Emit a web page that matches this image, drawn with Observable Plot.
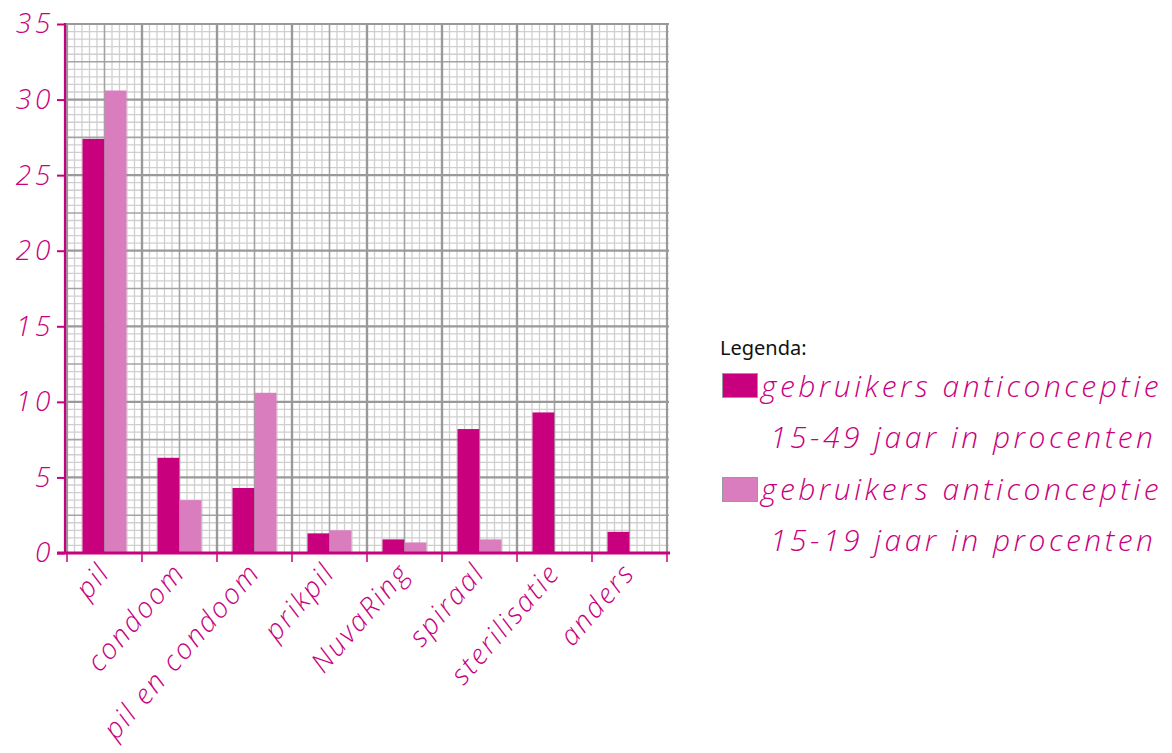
<!DOCTYPE html>
<html>
<head>
<meta charset="utf-8">
<script src="https://cdn.jsdelivr.net/npm/d3@7"></script>
<script src="https://cdn.jsdelivr.net/npm/@observablehq/plot@0.6"></script>
<style>
  html, body { margin: 0; padding: 0; background: #fff; }
  #wrap { position: relative; width: 1172px; height: 753px; }
  #chart { position: absolute; left: 0; top: 0; }
  #legend { position: absolute; left: 0; top: 0; width: 1172px; height: 753px; color: #c8007e; pointer-events: none; }
  #legend .title { position: absolute; left: 720px; top: 334px; font-family: "Noto Sans", sans-serif; font-size: 20px; color: #111; line-height: 28px; }
  #legend .sw { position: absolute; width: 36px; height: 25px; border: 1px solid #999; box-sizing: border-box; }
  #legend .lab { position: absolute; white-space: nowrap; font-family: "Open Sans", sans-serif; font-style: italic; font-weight: 300; font-size: 30px; letter-spacing: 3.5px; line-height: 51px; }
  .script { font-family: "Open Sans", sans-serif; font-style: italic; font-weight: 300; }
</style>
</head>
<body>
<div id="wrap">
  <div id="chart"></div>
  <div id="legend"></div>
</div>
<script>
const categories = ["pil", "condoom", "pil en condoom", "prikpil", "NuvaRing", "spiraal", "sterilisatie", "anders"];
const series = ["gebruikers anticonceptie 15-49 jaar in procenten", "gebruikers anticonceptie 15-19 jaar in procenten"];
const values1549 = [27.4, 6.3, 4.3, 1.3, 0.9, 8.2, 9.3, 1.4];
const values1519 = [30.6, 3.5, 10.6, 1.5, 0.7, 0.9, 0, 0];
const yTicks = [0, 5, 10, 15, 20, 25, 30, 35];
const colors = ["#c8007e", "#da7dbf"];

const dark = colors[0], light = colors[1];
const data1 = categories.map((c, i) => ({cat: c, v: values1549[i]}));
const data2 = categories.map((c, i) => ({cat: c, v: values1519[i]}));

const W = 700, H = 753;
const mL = 65, mR = 31, mT = 24, mB = 200;

function gridMark(index, scales, values, dims) {
  const x = scales.x, y = scales.y;
  const left = dims.marginLeft, right = dims.width - dims.marginRight;
  const top = dims.marginTop, bottom = dims.height - dims.marginBottom;
  const bw = typeof x.bandwidth === "function" ? x.bandwidth() : (right - left) / categories.length;
  const g = d3.create("svg:g");
  const hLines = [];
  for (let v = 0; v <= 35.0001; v += 0.5) hLines.push(Math.round(v * 10) / 10);
  const vLines = [];
  categories.forEach((c) => { for (let k = 0; k <= 10; k++) vLines.push({x: x(c) + k * bw / 10, k}); });
  const styleFor = (kind) => kind === 2 ? {s: "#999", w: 2.2} : kind === 1 ? {s: "#a3a3a3", w: 1.6} : {s: "#cfcfcf", w: 1.3};
  const kindH = (v) => (Math.abs(v % 5) < 1e-6) ? 2 : (Math.abs(v % 2.5) < 1e-6 ? 1 : 0);
  const kindV = (k) => (k === 0 || k === 10) ? 2 : (k === 5 ? 1 : 0);
  for (const pass of [0, 1, 2]) {
    for (const v of hLines) {
      if (kindH(v) !== pass) continue;
      const st = styleFor(pass);
      g.append("line").attr("x1", left).attr("x2", right).attr("y1", y(v)).attr("y2", y(v))
        .attr("stroke", st.s).attr("stroke-width", st.w);
    }
    for (const d of vLines) {
      if (kindV(d.k) !== pass) continue;
      const st = styleFor(pass);
      g.append("line").attr("x1", d.x).attr("x2", d.x).attr("y1", top).attr("y2", bottom)
        .attr("stroke", st.s).attr("stroke-width", st.w);
    }
  }
  return g.node();
}

function axisLines(index, scales, values, dims) {
  const x = scales.x;
  const left = dims.marginLeft, right = dims.width - dims.marginRight;
  const top = dims.marginTop, bottom = dims.height - dims.marginBottom;
  const bw = typeof x.bandwidth === "function" ? x.bandwidth() : (right - left) / categories.length;
  const g = d3.create("svg:g");
  g.append("line").attr("x1", left).attr("x2", left).attr("y1", top - 1).attr("y2", bottom)
    .attr("stroke", dark).attr("stroke-width", 2.2);
  g.append("line").attr("x1", left - 8).attr("x2", right + 1).attr("y1", bottom).attr("y2", bottom)
    .attr("stroke", dark).attr("stroke-width", 3);
  const bounds = categories.map(c => x(c)).concat([x(categories[categories.length - 1]) + bw]);
  for (const bx of bounds) {
    g.append("line").attr("x1", bx).attr("x2", bx).attr("y1", bottom).attr("y2", bottom + 9)
      .attr("stroke", dark).attr("stroke-width", 1.5);
  }
  return g.node();
}

const bw = (W - mL - mR) / categories.length;

const plot = Plot.plot({
  width: W,
  height: H,
  marginLeft: mL,
  marginRight: mR,
  marginTop: mT,
  marginBottom: mB,
  x: {domain: categories, padding: 0},
  y: {domain: [0, 35]},
  style: {background: "transparent", overflow: "visible"},
  marks: [
    gridMark,
    Plot.barY(data1, {x: "cat", y: "v", fill: dark, insetLeft: 15.5, insetRight: bw / 2}),
    Plot.barY(data2, {x: "cat", y: "v", fill: light, insetLeft: bw / 2, insetRight: 15.5}),
    axisLines,
    Plot.axisY({ticks: yTicks, tickSize: 8, tickPadding: 3, stroke: dark, strokeWidth: 2, fill: dark,
      fontSize: 28, className: "script", label: null, tickFormat: d => String(d)}),
    Plot.axisX({tickSize: 0, tickPadding: 14, tickRotate: -49, fill: dark, fontSize: 28,
      className: "script xlab", label: null})
  ]
});

d3.select(plot).selectAll(".script text").style("letter-spacing", "4px");
d3.select(plot).selectAll(".xlab text").style("letter-spacing", "2.4px");
document.getElementById("chart").appendChild(plot);

// legend
const lg = d3.select("#legend");
lg.append("div").attr("class", "title").text("Legenda:");
const rowTop = [360, 463];
const swTop = [373, 477];
series.forEach((s, i) => {
  const parts = s.split(" ");
  const line1 = parts.slice(0, 2).join(" ");
  const line2 = parts.slice(2).join(" ");
  lg.append("div").attr("class", "sw").style("left", "722px").style("top", swTop[i] + "px").style("background", colors[i]);
  lg.append("div").attr("class", "lab").style("left", "761px").style("top", rowTop[i] + "px").text(line1);
  lg.append("div").attr("class", "lab").style("left", "770px").style("top", (rowTop[i] + 51) + "px").text(line2);
});
</script>
</body>
</html>
